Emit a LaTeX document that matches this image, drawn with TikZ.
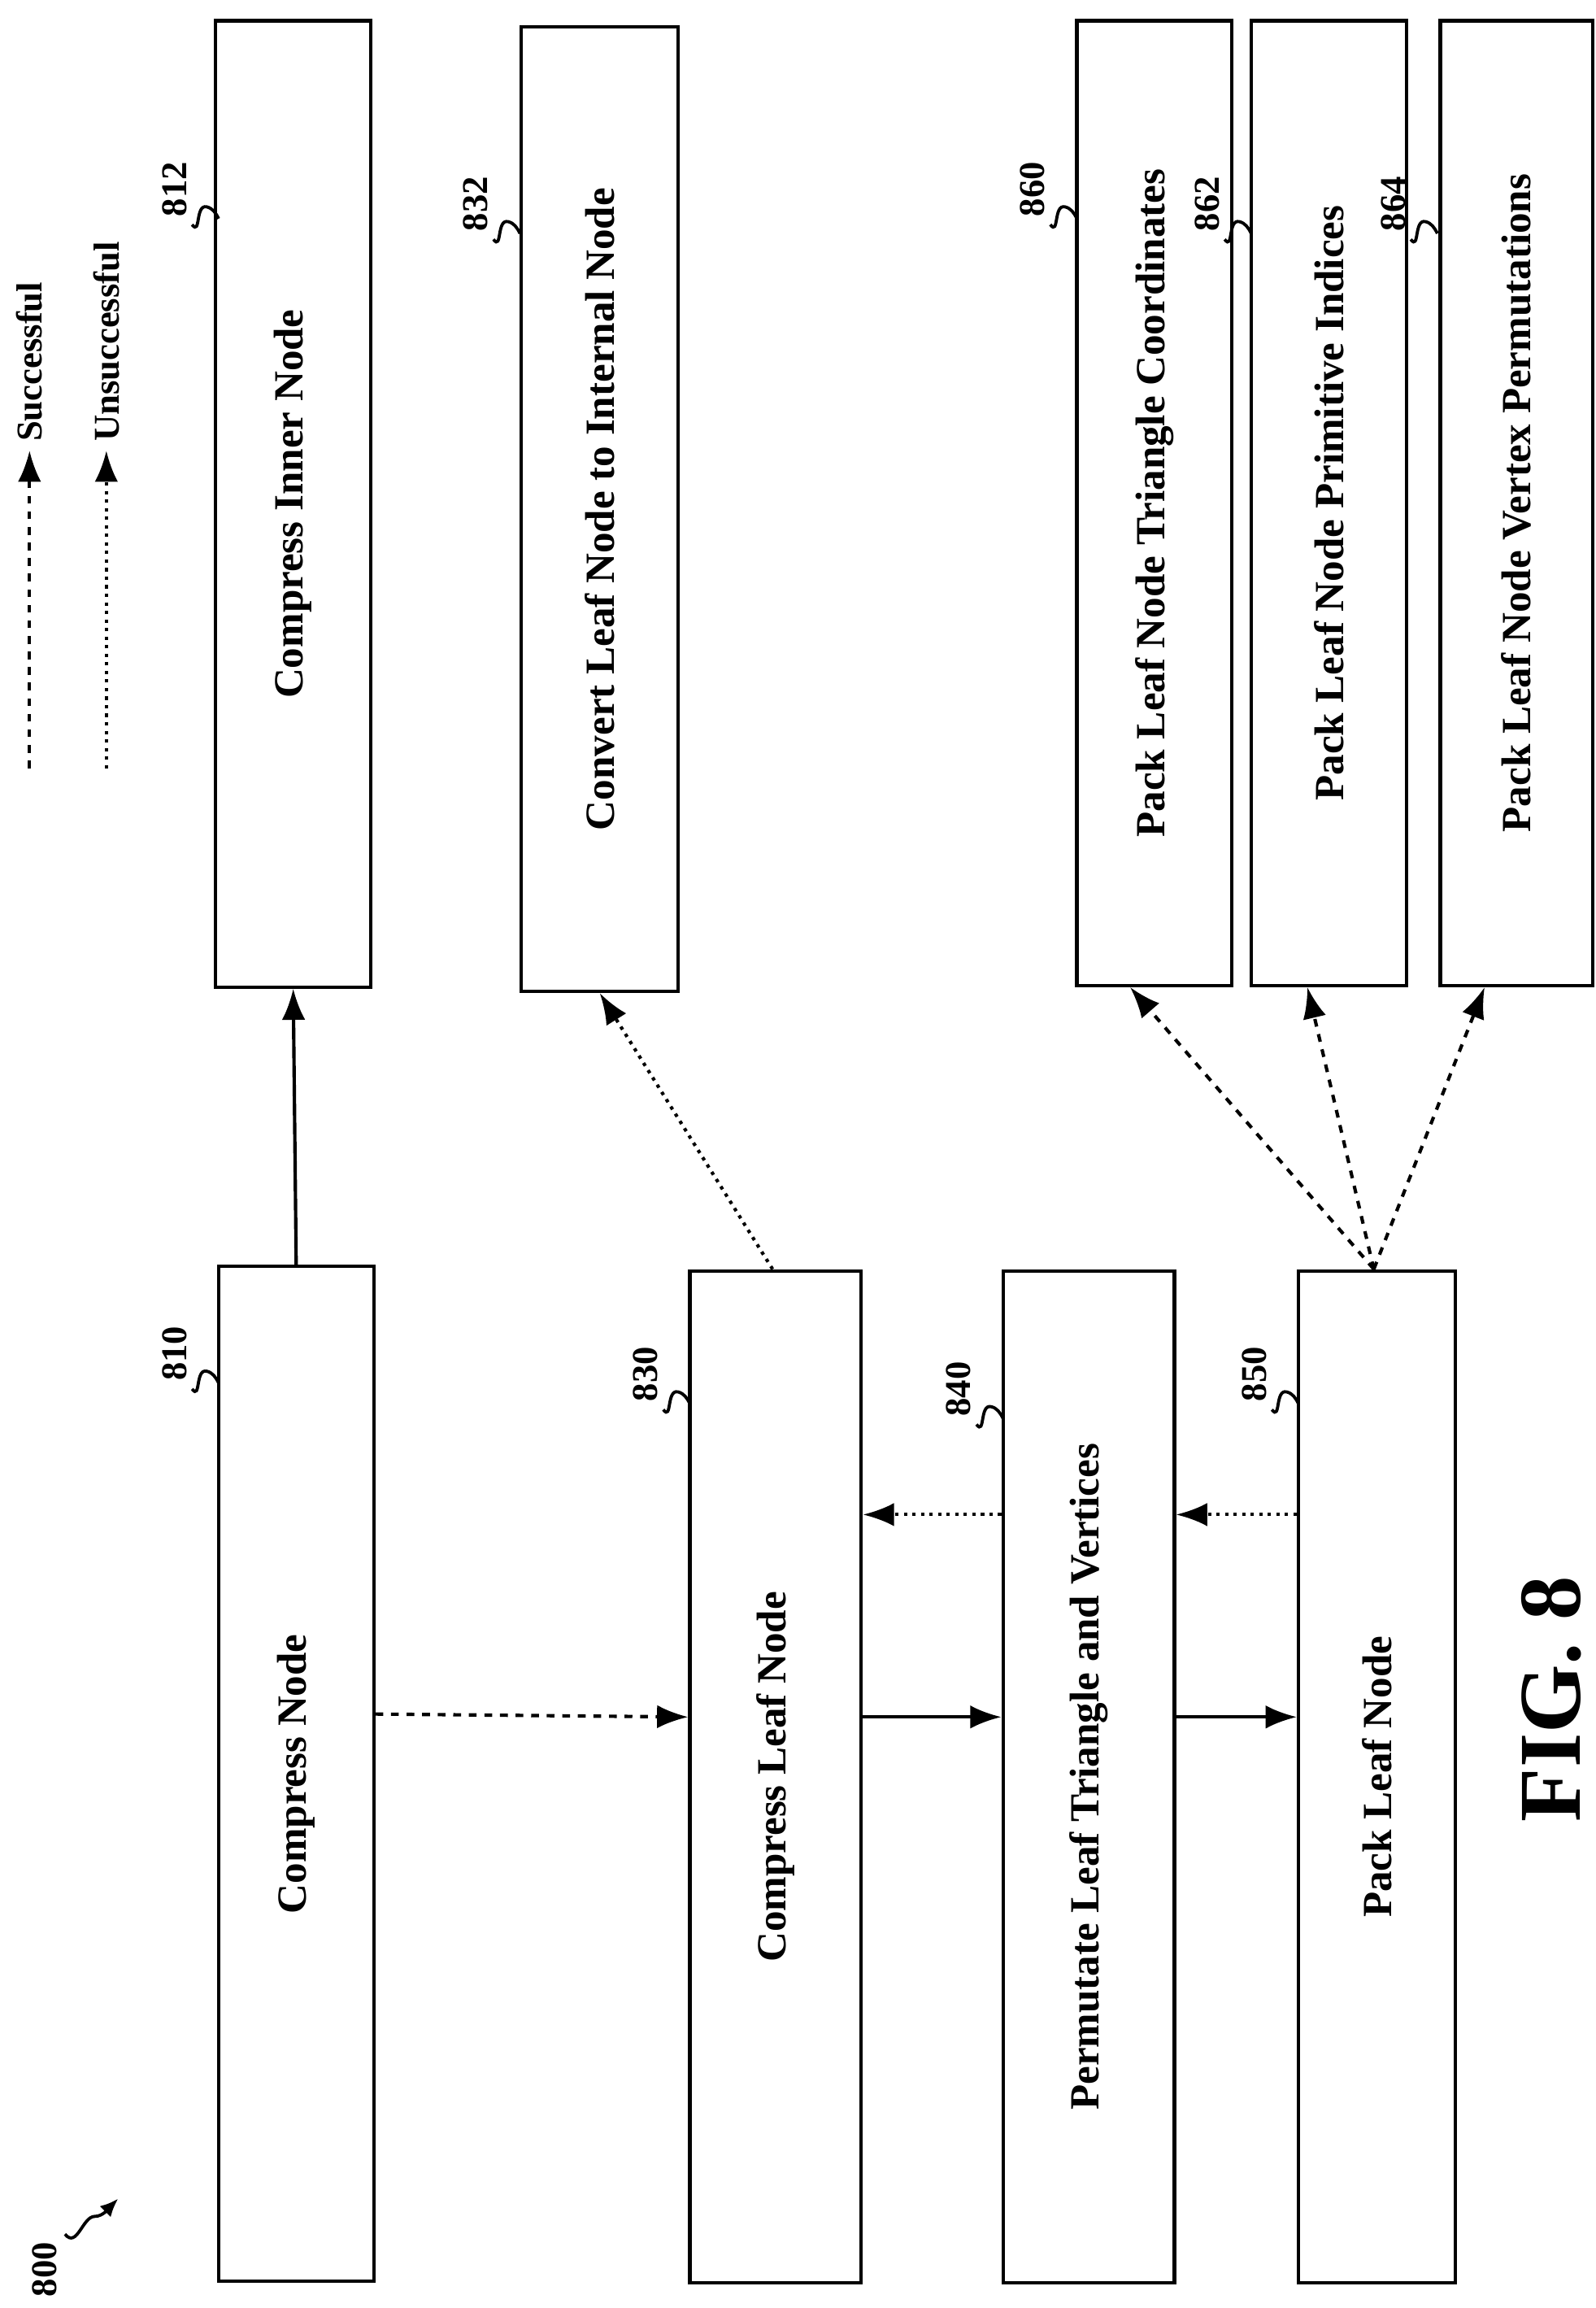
\documentclass[tikz,border=0pt]{standalone}
\usepackage{fontspec}
\setmainfont{Liberation Serif}
\usetikzlibrary{arrows.meta}
\tikzset{
  box/.style={draw, line width=1.3pt, inner sep=0pt, font=\bfseries\fontsize{16}{19}\selectfont},
  succ/.style={line width=1.3pt, dashed, -{Latex[length=12pt,width=9pt]}},
  fail/.style={line width=1.3pt, dotted, -{Latex[length=12pt,width=9pt]}},
  flow/.style={line width=1.3pt, -{Latex[length=12pt,width=9pt]}},
  refnum/.style={font=\bfseries\fontsize{14}{16}\selectfont, rotate=90},
  squig/.style={line width=1.2pt}
}
\newcommand{\refmark}[4]{% x y of text, name
  \node[refnum] (#4) at (#1,#2) {#3};
  \draw[squig] (#1+12,#2+24) .. controls (#1+18,#2+32) and (#1+14,#2+10) .. (#1+22,#2+12) .. controls (#1+26,#2+13) and (#1+28,#2+16) .. (#1+30,#2+20);
}
\begin{document}
\begin{tikzpicture}[x=0.02cm,y=-0.02cm]
\useasboundingbox (0,0) rectangle (1080,1562);
% Boxes
\node[box, minimum width=2.1cm, minimum height=13.08cm] (n812) at (198.5,341) {\rotatebox{90}{Compress Inner Node}};
\node[box, minimum width=2.12cm, minimum height=13.06cm] (n832) at (406,344.5) {\rotatebox{90}{Convert Leaf Node to Internal Node}};
\node[box, minimum width=2.1cm, minimum height=13.06cm] (n860) at (781.5,340.5) {\rotatebox{90}{Pack Leaf Node Triangle Coordinates}};
\node[box, minimum width=2.1cm, minimum height=13.06cm] (n862) at (899.5,340.5) {\rotatebox{90}{Pack Leaf Node Primitive Indices}};
\node[box, minimum width=2.06cm, minimum height=13.06cm] (n864) at (1026.5,340.5) {\rotatebox{90}{Pack Leaf Node Vertex Permutations}};
\node[box, minimum width=2.1cm, minimum height=13.74cm] (n810) at (200.5,1200.5) {\rotatebox{90}{Compress Node}};
\node[box, minimum width=2.32cm, minimum height=13.7cm] (n830) at (525,1202.5) {\rotatebox{90}{Compress Leaf Node}};
\node[box, minimum width=2.32cm, minimum height=13.7cm] (n840) at (737,1202.5) {\rotatebox{90}{Permutate Leaf Triangle and Vertices}};
\node[box, minimum width=2.12cm, minimum height=13.7cm] (n850) at (932,1202.5) {\rotatebox{90}{Pack Leaf Node}};
% Connectors
\draw[flow] (n810.north) -- (n812.south);
\draw[fail] ([xshift=-0.04cm]n830.north) -- (n832.south);
\draw[succ] ([yshift=0.81cm]n810.east) -- ([yshift=0.81cm]n830.west);
\draw[flow] ([yshift=0.81cm]n830.east) -- ([yshift=0.81cm]n840.west);
\draw[flow] ([yshift=0.81cm]n840.east) -- ([yshift=0.81cm]n850.west);
\draw[fail] ([yshift=3.55cm]n840.west) -- ([yshift=3.55cm]n830.east);
\draw[fail] ([yshift=3.55cm]n850.west) -- ([yshift=3.55cm]n840.east);
\coordinate (fan) at ([xshift=-0.04cm]n850.north);
\draw[succ] (fan) -- ([xshift=-0.33cm]n860.south);
\draw[succ] (fan) -- ([xshift=-0.29cm]n862.south);
\draw[succ] (fan) -- ([xshift=-0.43cm]n864.south);
% Reference numerals
\refmark{118}{128}{812}{r812}
\refmark{322}{138}{832}{r832}
\refmark{699}{128}{860}{r860}
\refmark{817}{138}{862}{r862}
\refmark{943}{138}{864}{r864}
\refmark{118}{916}{810}{r810}
\refmark{437}{930}{830}{r830}
\refmark{649}{940}{840}{r840}
\refmark{849}{930}{850}{r850}
\node[refnum] (r800) at (30,1536) {800};
\draw[squig, -{Latex[length=7pt,width=6pt]}] (44,1512) .. controls (52,1522) and (56,1500) .. (64,1500) .. controls (70,1500) and (74,1494) .. (80,1488);
% Legend
\coordinate (ls0) at (20,520); \coordinate (ls1) at (20,305);
\coordinate (lu0) at (72,520); \coordinate (lu1) at (72,305);
\draw[succ] (ls0) -- (ls1);
\draw[fail] (lu0) -- (lu1);
\node[refnum, anchor=west] (lsucc) at (ls1) {Successful};
\node[refnum, anchor=west] (lfail) at (lu1) {Unsuccessful};
% Figure label
\node[rotate=90, font=\bfseries\fontsize{34}{40}\selectfont] (fig) at (1050,1150) {FIG. 8};
\end{tikzpicture}
\end{document}
